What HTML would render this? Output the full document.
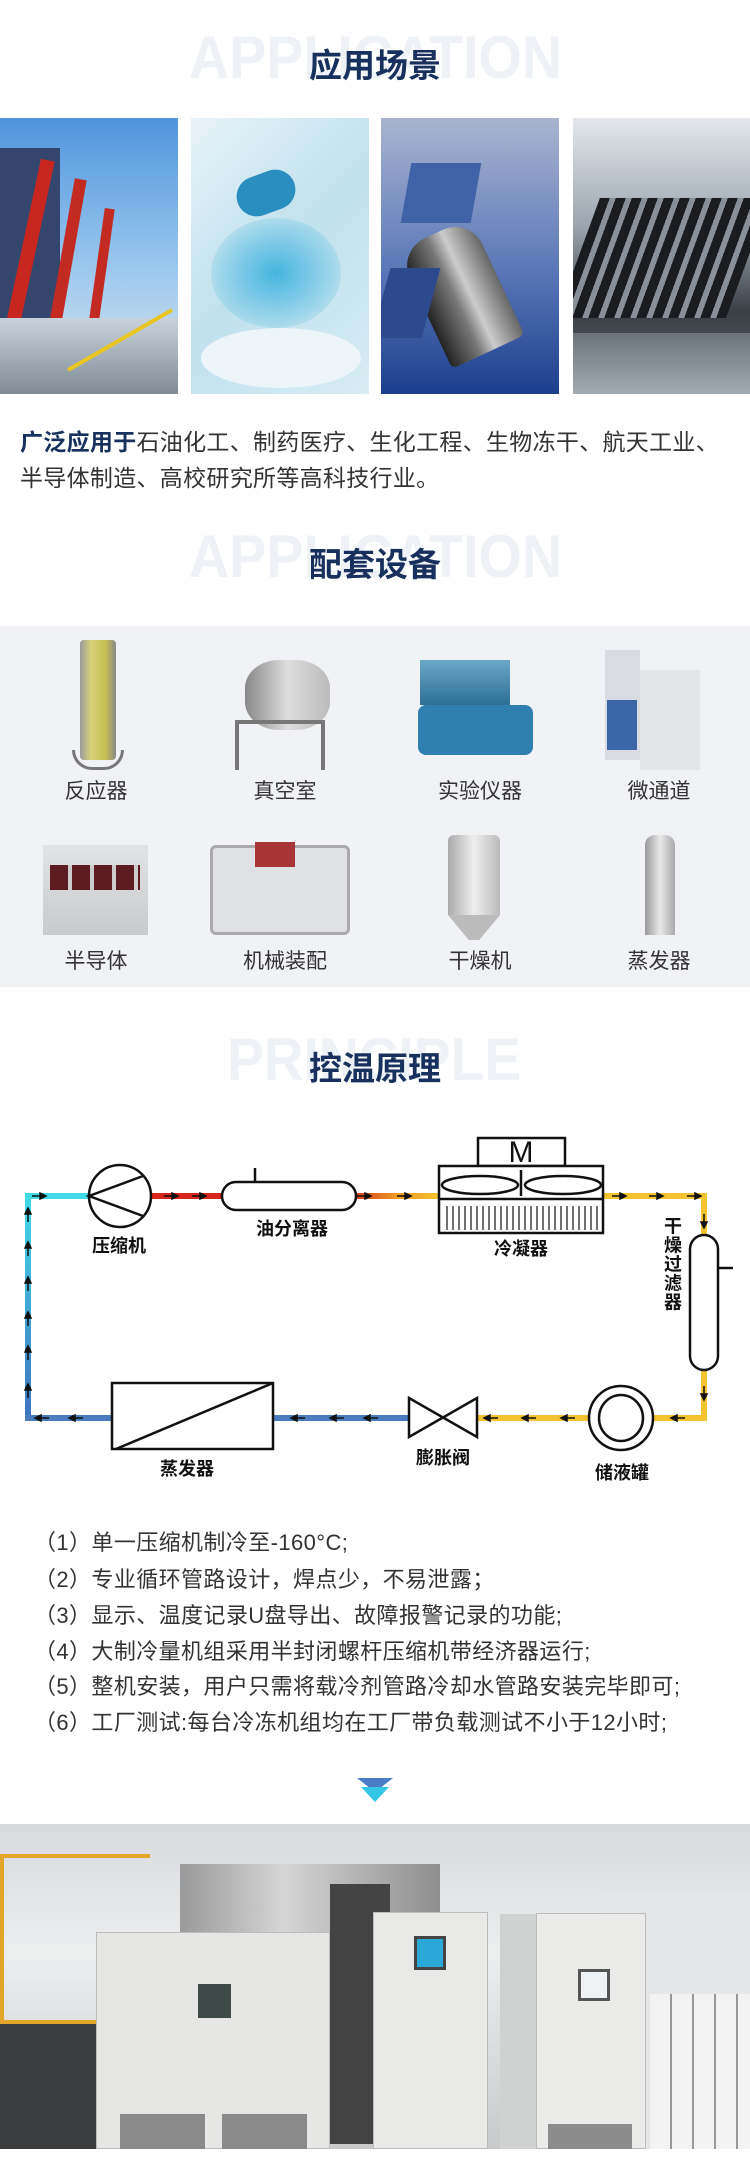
<!DOCTYPE html>
<html><head><meta charset="utf-8">
<style>
*{margin:0;padding:0;box-sizing:border-box}
body{width:750px;height:2184px;position:relative;background:#fff;overflow:hidden;font-family:"Liberation Sans","Noto Sans CJK SC",sans-serif}
.a{position:absolute}
.title{position:absolute;left:0;width:750px;text-align:center;font-size:33px;font-weight:bold;color:#17305e;line-height:40px}
.wm{position:absolute;left:0;width:750px}
.lbl{position:absolute;width:160px;text-align:center;font-size:21px;color:#333;line-height:26px}
.p{position:absolute;left:20px;font-size:23px;color:#333;line-height:30px;white-space:nowrap;letter-spacing:0.3px}
.b{position:absolute;left:34px;font-size:22px;color:#333;line-height:28px;white-space:nowrap;letter-spacing:0.4px}
.dl{font-family:"Liberation Sans","Noto Sans CJK SC",sans-serif;font-weight:bold;font-size:18px;fill:#111}
</style></head><body>

<svg class="wm" style="top:20px" width="750" height="70"><text x="189" y="58" textLength="373" lengthAdjust="spacingAndGlyphs" font-family="Liberation Sans" font-weight="bold" font-size="60" fill="#eef1f5">APPLICATION</text></svg>
<div class="title" style="top:46px">应用场景</div>

<div class="a" style="left:0;top:118px;width:178px;height:276px;background:linear-gradient(#4f95dc,#9cc8ee 55%,#dfe8ee);overflow:hidden">
  <div class="a" style="left:0;top:30px;width:60px;height:200px;background:#34466e"></div>
  <div class="a" style="left:20px;top:40px;width:14px;height:200px;background:#c8271f;transform:rotate(12deg)"></div>
  <div class="a" style="left:60px;top:60px;width:12px;height:170px;background:#c22a22;transform:rotate(10deg)"></div>
  <div class="a" style="left:95px;top:90px;width:10px;height:140px;background:#c22a22;transform:rotate(8deg)"></div>
  <div class="a" style="left:0;top:200px;width:178px;height:76px;background:linear-gradient(#c8d2da,#7f8c96)"></div>
  <div class="a" style="left:60px;top:220px;width:120px;height:4px;background:#e8c520;transform:rotate(-30deg)"></div>
</div>
<div class="a" style="left:191px;top:118px;width:178px;height:276px;background:linear-gradient(135deg,#e8f3f8,#bfe1ee 50%,#d8ecf3);overflow:hidden">
  <div class="a" style="left:45px;top:55px;width:60px;height:40px;border-radius:20px;background:#2a8fc0;transform:rotate(-20deg)"></div>
  <div class="a" style="left:20px;top:100px;width:130px;height:110px;border-radius:50%;background:radial-gradient(#46b5e0,rgba(70,181,224,0.2) 70%,transparent)"></div>
  <div class="a" style="left:10px;top:210px;width:160px;height:60px;border-radius:50%;background:#eef5f8"></div>
</div>
<div class="a" style="left:381px;top:118px;width:178px;height:276px;background:linear-gradient(#a9b4d0,#5a78b8 55%,#1c3f8e);overflow:hidden">
  <div class="a" style="left:25px;top:45px;width:70px;height:60px;background:#3f62a8;transform:skew(-10deg)"></div>
  <div class="a" style="left:40px;top:110px;width:80px;height:130px;background:linear-gradient(90deg,#222,#777 40%,#ccc 60%,#666);transform:rotate(-25deg);border-radius:30px 30px 6px 6px"></div>
  <div class="a" style="left:0;top:150px;width:50px;height:70px;background:#2d4a8e;transform:skew(-15deg)"></div>
</div>
<div class="a" style="left:573px;top:118px;width:177px;height:276px;background:linear-gradient(#e4e8ec,#9aa4ad 40%,#3a3f45 70%,#5c646c);overflow:hidden">
  <div class="a" style="left:5px;top:80px;width:170px;height:120px;background:repeating-linear-gradient(90deg,#1a1c1f 0 10px,#8a9099 10px 16px);transform:skew(-20deg)"></div>
  <div class="a" style="left:0;top:215px;width:177px;height:61px;background:linear-gradient(#6b737b,#a2aab2)"></div>
</div>

<div class="p" style="top:427px"><b style="color:#17305e">广泛应用于</b>石油化工、制药医疗、生化工程、生物冻干、航天工业、</div>
<div class="p" style="top:463px">半导体制造、高校研究所等高科技行业。</div>

<svg class="wm" style="top:522px" width="750" height="70"><text x="189" y="55" textLength="373" lengthAdjust="spacingAndGlyphs" font-family="Liberation Sans" font-weight="bold" font-size="60" fill="#eef1f5">APPLICATION</text></svg>
<div class="title" style="top:545px">配套设备</div>

<div class="a" style="left:0;top:626px;width:750px;height:361px;background:#f1f2f6"></div>
<div class="a" style="left:80px;top:640px;width:36px;height:120px;background:linear-gradient(90deg,#999,#d6d27a 30%,#c8c050 70%,#888);border-radius:4px"></div>
<div class="a" style="left:72px;top:750px;width:52px;height:20px;border:3px solid #777;border-top:none;border-radius:0 0 20px 20px"></div>
<div class="a" style="left:245px;top:660px;width:85px;height:70px;border-radius:40%;background:linear-gradient(90deg,#888,#ddd 50%,#bbb)"></div>
<div class="a" style="left:235px;top:720px;width:90px;height:50px;border:4px solid #777;border-bottom:none"></div>
<div class="a" style="left:420px;top:660px;width:90px;height:45px;background:linear-gradient(#6aa8c8,#2e6f95)"></div>
<div class="a" style="left:418px;top:705px;width:115px;height:50px;background:#2f7fb0;border-radius:8px"></div>
<div class="a" style="left:605px;top:650px;width:35px;height:110px;background:#d8dce2"></div>
<div class="a" style="left:640px;top:670px;width:60px;height:100px;background:#e2e4e8"></div>
<div class="a" style="left:607px;top:700px;width:30px;height:50px;background:#3b66a8"></div>
<div class="lbl" style="left:16px;top:779px">反应器</div>
<div class="lbl" style="left:205px;top:779px">真空室</div>
<div class="lbl" style="left:400px;top:779px">实验仪器</div>
<div class="lbl" style="left:579px;top:779px">微通道</div>
<div class="a" style="left:43px;top:845px;width:105px;height:90px;background:linear-gradient(#e2e3e5,#c9cacc)"></div>
<div class="a" style="left:50px;top:865px;width:90px;height:25px;background:repeating-linear-gradient(90deg,#5c1c22 0 18px,#ccc 18px 22px)"></div>
<div class="a" style="left:210px;top:845px;width:140px;height:90px;border:3px solid #aaa;border-radius:6px;background:rgba(200,200,205,0.4)"></div>
<div class="a" style="left:255px;top:842px;width:40px;height:25px;background:#a83636"></div>
<div class="a" style="left:448px;top:835px;width:52px;height:80px;background:linear-gradient(90deg,#aaa,#eee 50%,#bbb);border-radius:6px 6px 0 0"></div>
<div class="a" style="left:448px;top:915px;width:52px;height:25px;background:#bbb;clip-path:polygon(0 0,100% 0,60% 100%,40% 100%)"></div>
<div class="a" style="left:645px;top:835px;width:30px;height:100px;background:linear-gradient(90deg,#999,#e8e8e8 50%,#aaa);border-radius:10px 10px 0 0"></div>
<div class="lbl" style="left:16px;top:949px">半导体</div>
<div class="lbl" style="left:205px;top:949px">机械装配</div>
<div class="lbl" style="left:400px;top:949px">干燥机</div>
<div class="lbl" style="left:579px;top:949px">蒸发器</div>

<svg class="wm" style="top:1025px" width="750" height="70"><text x="227" y="55" textLength="294" lengthAdjust="spacingAndGlyphs" font-family="Liberation Sans" font-weight="bold" font-size="60" fill="#eef1f5">PRINCIPLE</text></svg>
<div class="title" style="top:1049px">控温原理</div>

<svg class="a" style="left:0;top:1100px" width="750" height="400" viewBox="0 1100 750 400">
<defs>
<linearGradient id="lv" x1="0" y1="1196" x2="0" y2="1418" gradientUnits="userSpaceOnUse"><stop offset="0" stop-color="#40dbe9"/><stop offset="1" stop-color="#3f73bf"/></linearGradient>
<linearGradient id="oy" x1="356" y1="0" x2="439" y2="0" gradientUnits="userSpaceOnUse"><stop offset="0" stop-color="#d9401c"/><stop offset="0.5" stop-color="#ee9a22"/><stop offset="1" stop-color="#f4c430"/></linearGradient>
</defs>
<g stroke-width="6" fill="none">
<line x1="28" y1="1196" x2="28" y2="1418" stroke="url(#lv)"/>
<line x1="25" y1="1196" x2="89" y2="1196" stroke="#40dbe9"/>
<line x1="151" y1="1196" x2="222" y2="1196" stroke="#d9261c"/>
<line x1="356" y1="1196" x2="439" y2="1196" stroke="url(#oy)"/>
<line x1="603" y1="1196" x2="707" y2="1196" stroke="#f4c430"/>
<line x1="704" y1="1196" x2="704" y2="1421" stroke="#f4c430"/>
<line x1="477" y1="1418" x2="707" y2="1418" stroke="#f4c430"/>
<line x1="25" y1="1418" x2="409" y2="1418" stroke="#4a7cc0"/>
</g>
<g fill="#111" stroke="#111" stroke-width="1.5">
<g id="ar"><line x1="-8" y1="0" x2="0" y2="0"/><polygon points="0,-3 6,0 0,3"/></g>
<use href="#ar" x="40" y="1196"/><use href="#ar" x="172" y="1196"/><use href="#ar" x="200" y="1196"/>
<use href="#ar" x="365" y="1196"/><use href="#ar" x="405" y="1196"/>
<use href="#ar" x="620" y="1196"/><use href="#ar" x="657" y="1196"/><use href="#ar" x="695" y="1196"/>
<g id="al"><line x1="8" y1="0" x2="0" y2="0"/><polygon points="0,-3 -6,0 0,3"/></g>
<use href="#al" x="677" y="1418"/><use href="#al" x="567" y="1418"/><use href="#al" x="528" y="1418"/><use href="#al" x="490" y="1418"/>
<use href="#al" x="370" y="1418"/><use href="#al" x="336" y="1418"/><use href="#al" x="297" y="1418"/>
<use href="#al" x="75" y="1418"/><use href="#al" x="41" y="1418"/>
<g id="au"><line x1="0" y1="8" x2="0" y2="0"/><polygon points="-3,0 0,-6 3,0"/></g>
<use href="#au" x="28" y="1390"/><use href="#au" x="28" y="1352"/><use href="#au" x="28" y="1318"/><use href="#au" x="28" y="1283"/><use href="#au" x="28" y="1248"/><use href="#au" x="28" y="1214"/>
<g id="ad"><line x1="0" y1="-8" x2="0" y2="0"/><polygon points="-3,0 0,6 3,0"/></g>
<use href="#ad" x="704" y="1222"/><use href="#ad" x="704" y="1394"/>
</g>
<g stroke="#111" stroke-width="2.5" fill="#fff">
<circle cx="120" cy="1196" r="31"/>
<polyline points="143,1176 89,1196 143,1216" fill="none"/>
<line x1="255" y1="1168" x2="255" y2="1182"/>
<rect x="222" y="1182" width="134" height="28" rx="14"/>
<rect x="478" y="1138" width="87" height="28"/>
<rect x="439" y="1166" width="164" height="67"/>
<line x1="439" y1="1199" x2="603" y2="1199"/>
<ellipse cx="480" cy="1185" rx="38" ry="9"/>
<ellipse cx="563" cy="1185" rx="38" ry="9"/>
<line x1="521" y1="1170" x2="521" y2="1196"/>
<line x1="718" y1="1268" x2="733" y2="1268"/>
<rect x="690" y="1235" width="28" height="135" rx="14"/>
<ellipse cx="621" cy="1418" rx="32" ry="32"/>
<ellipse cx="621" cy="1418" rx="22" ry="23"/>
<polygon points="409,1398 477,1437 477,1398 409,1437"/>
<rect x="112" y="1383" width="161" height="66"/>
<line x1="116" y1="1449" x2="273" y2="1383"/>
</g>
<g stroke="#111" stroke-width="1.2">
<path d="M447 1206V1230M453 1206V1230M459 1206V1230M465 1206V1230M471 1206V1230M477 1206V1230M483 1206V1230M489 1206V1230M495 1206V1230M501 1206V1230M507 1206V1230M513 1206V1230M519 1206V1230M525 1206V1230M531 1206V1230M537 1206V1230M543 1206V1230M549 1206V1230M555 1206V1230M561 1206V1230M567 1206V1230M573 1206V1230M579 1206V1230M585 1206V1230M591 1206V1230M597 1206V1230"/>
</g>
<text x="521" y="1162" text-anchor="middle" font-family="Liberation Sans" font-size="30" fill="#111">M</text>
<text class="dl" x="119" y="1252" text-anchor="middle">压缩机</text>
<text class="dl" x="292" y="1235" text-anchor="middle">油分离器</text>
<text class="dl" x="521" y="1255" text-anchor="middle">冷凝器</text>
<text class="dl" x="187" y="1475" text-anchor="middle">蒸发器</text>
<text class="dl" x="443" y="1464" text-anchor="middle">膨胀阀</text>
<text class="dl" x="622" y="1479" text-anchor="middle">储液罐</text>
<text class="dl" x="672" y="1264" text-anchor="middle" style="writing-mode:vertical-rl" letter-spacing="1">干燥过滤器</text>
</svg>

<div class="b" style="top:1529px">（1）单一压缩机制冷至-160°C;</div>
<div class="b" style="top:1566px">（2）专业循环管路设计，焊点少，不易泄露；</div>
<div class="b" style="top:1602px">（3）显示、温度记录U盘导出、故障报警记录的功能;</div>
<div class="b" style="top:1638px">（4）大制冷量机组采用半封闭螺杆压缩机带经济器运行;</div>
<div class="b" style="top:1673px">（5）整机安装，用户只需将载冷剂管路冷却水管路安装完毕即可;</div>
<div class="b" style="top:1709px">（6）工厂测试:每台冷冻机组均在工厂带负载测试不小于12小时;</div>

<svg class="a" style="left:355px;top:1776px" width="40" height="30">
<polygon points="2,2 38,2 20,16" fill="#4a7cc8"/>
<polygon points="6,11 34,11 20,26" fill="#34c6e6"/>
</svg>

<div class="a" style="left:0;top:1824px;width:750px;height:325px;background:linear-gradient(#d7dadd,#eceeef 40%,#c7c9cb);overflow:hidden">
  <div class="a" style="left:0;top:30px;width:150px;height:170px;border:4px solid #e3a62a;border-right:none"></div>
  <div class="a" style="left:0;top:200px;width:110px;height:125px;background:#3a3c3e"></div>
  <div class="a" style="left:180px;top:40px;width:260px;height:70px;background:linear-gradient(90deg,#9a9a9a,#d5d5d5 40%,#8e8e8e)"></div>
  <div class="a" style="left:330px;top:60px;width:60px;height:260px;background:#444"></div>
  <div class="a" style="left:600px;top:70px;width:150px;height:255px;background:#e4e6e8"></div>
  <div class="a" style="left:96px;top:108px;width:234px;height:217px;background:#e6e6e4;border:1px solid #bbb"></div>
  <div class="a" style="left:198px;top:160px;width:33px;height:34px;background:#3d4a48"></div>
  <div class="a" style="left:120px;top:290px;width:85px;height:35px;background:#8a8a8a"></div>
  <div class="a" style="left:222px;top:290px;width:85px;height:35px;background:#8a8a8a"></div>
  <div class="a" style="left:373px;top:88px;width:115px;height:237px;background:#e9e9e7;border:1px solid #bbb"></div>
  <div class="a" style="left:414px;top:112px;width:32px;height:34px;background:#2aa8d8;border:3px solid #444"></div>
  <div class="a" style="left:500px;top:90px;width:40px;height:235px;background:#d0d2d2"></div>
  <div class="a" style="left:536px;top:89px;width:110px;height:236px;background:#ebebea;border:1px solid #bbb"></div>
  <div class="a" style="left:578px;top:145px;width:32px;height:32px;background:#eef2f4;border:3px solid #555"></div>
  <div class="a" style="left:548px;top:300px;width:84px;height:25px;background:#8c8c8c"></div>
  <div class="a" style="left:650px;top:170px;width:100px;height:155px;background:repeating-linear-gradient(90deg,#f3f3f3 0 20px,#999 20px 22px)"></div>
</div>
</body></html>
